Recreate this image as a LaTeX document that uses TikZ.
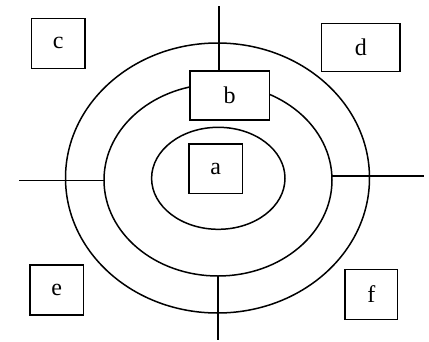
\documentclass[tikz,border=0pt]{standalone}
\usepackage{fontspec}
\setmainfont{Liberation Serif}
\begin{document}
\begin{tikzpicture}[x=1pt,y=-1pt,line width=1.5pt,
  lbl/.style={draw,fill=white,inner sep=0pt,font=\fontsize{24}{26}\selectfont},
  ring/.style={draw}]
\useasboundingbox (0,0) rectangle (429,341);
% ellipses
\draw[ring] (217.5,178) ellipse [x radius=152, y radius=135];
\draw[ring] (218,180) ellipse [x radius=114, y radius=96];
\draw[ring] (218.3,178.3) ellipse [x radius=66.7, y radius=51];
% boxes
\node[lbl,minimum width=79.3pt,minimum height=49.3pt] (b) at (229.7,95.4) {b};
\node[lbl,minimum width=53.7pt,minimum height=49.3pt] (a) at (215.8,168.7) {a};
\node[lbl,minimum width=53.3pt,minimum height=50pt] (c) at (58.3,43.3) {c};
\node[lbl,minimum width=78.3pt,minimum height=48.4pt] (d) at (360.8,47.5) {d};
\node[lbl,minimum width=53.3pt,minimum height=50pt] (e) at (56.7,290) {e};
\node[lbl,minimum width=52.7pt,minimum height=50pt] (f) at (371.3,294.3) {f};
% connectors
\coordinate (topend) at (219,6);
\coordinate (botstart) at (218,276);
\coordinate (botend) at (218,340);
\coordinate (lstart) at (19.3,180.7);
\coordinate (lend) at (104,180.7);
\coordinate (rstart) at (331.7,176);
\coordinate (rend) at (424,176);
\draw (topend) -- (topend |- b.north);
\draw (botstart) -- (botend);
\draw (lstart) -- (lend);
\draw (rstart) -- (rend);
\end{tikzpicture}
\end{document}
